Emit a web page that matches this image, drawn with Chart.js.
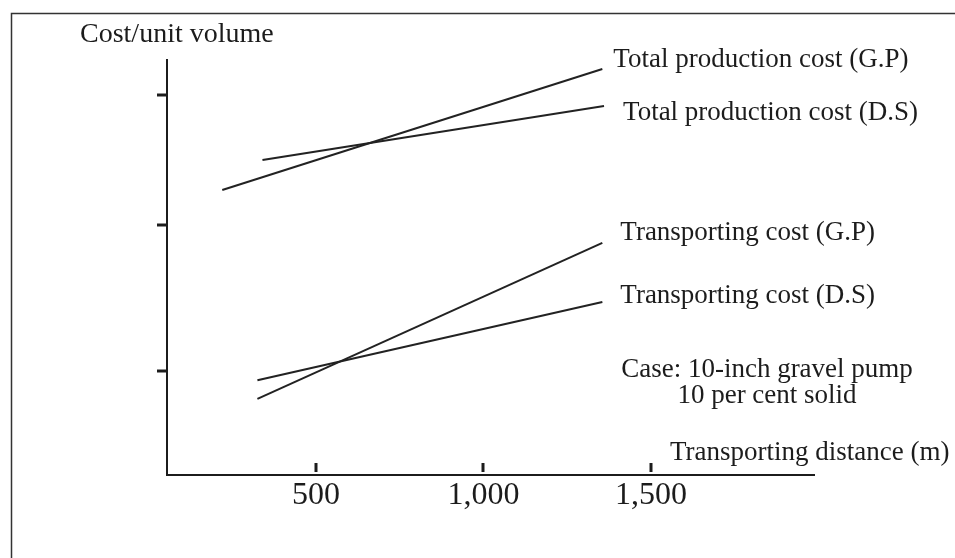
<!DOCTYPE html>
<html>
<head>
<meta charset="utf-8">
<script src="https://cdn.jsdelivr.net/npm/chart.js@4/dist/chart.umd.min.js"></script>
<style>
  html, body { margin: 0; padding: 0; background: #fff; }
  canvas { display: block; }
</style>
</head>
<body>
<canvas id="c" width="955" height="558"></canvas>
<script>
// Cost per unit volume against transporting distance (schematic, no y values shown)
const seriesNames = [
  'Total production cost (G.P)',
  'Total production cost (D.S)',
  'Transporting cost (G.P)',
  'Transporting cost (D.S)'
];
const distTotalGP = [220, 1355];
const costTotalGP = [68.5, 97.6];
const distTotalDS = [340, 1360];
const costTotalDS = [75.7, 88.7];
const distTransGP = [325, 1355];
const costTransGP = [18.3, 55.8];
const distTransDS = [325, 1355];
const costTransDS = [22.8, 41.6];

const xTickValues = [500, 1000, 1500];
const xTickLabels = ['500', '1,000', '1,500'];
const yTickValues = [25, 60, 91.3];

const yTitle = 'Cost/unit volume';
const xTitle = 'Transporting distance (m)';
const caseNote = ['Case: 10-inch gravel pump', '10 per cent solid'];

const INK = '#1c1c1c';
const SERIF = '"Liberation Serif", "Times New Roman", serif';

function pts(xs, ys) { return xs.map((x, i) => ({ x: x, y: ys[i] })); }

// label offsets (px) from the right-hand end of each line
const labelOffsets = [[11, -2], [19, 14], [18, -3], [18, 1]];

const annotate = {
  id: 'annotate',
  beforeDraw(chart) {
    const ctx = chart.ctx;
    ctx.save();
    ctx.fillStyle = '#fff';
    ctx.fillRect(0, 0, chart.width, chart.height);
    // outer frame (left and top edges)
    ctx.strokeStyle = '#333';
    ctx.lineWidth = 1.5;
    ctx.beginPath();
    ctx.moveTo(11.5, chart.height);
    ctx.lineTo(11.5, 13.5);
    ctx.lineTo(chart.width, 13.5);
    ctx.stroke();
    ctx.restore();
  },
  afterDraw(chart) {
    const ctx = chart.ctx;
    const a = chart.chartArea;
    const xs = chart.scales.x, ys = chart.scales.y;
    ctx.save();
    ctx.strokeStyle = INK;
    ctx.fillStyle = INK;
    // axes
    ctx.lineWidth = 2;
    ctx.beginPath();
    ctx.moveTo(a.left, a.top);
    ctx.lineTo(a.left, a.bottom);
    ctx.lineTo(a.right, a.bottom);
    ctx.stroke();
    // x ticks point up into the plot
    ctx.lineWidth = 3;
    xTickValues.forEach((v, i) => {
      const px = Math.round(xs.getPixelForValue(v));
      ctx.beginPath();
      ctx.moveTo(px, a.bottom - 12);
      ctx.lineTo(px, a.bottom - 3);
      ctx.stroke();
    });
    // y ticks point left
    yTickValues.forEach(v => {
      const py = Math.round(ys.getPixelForValue(v));
      ctx.beginPath();
      ctx.moveTo(a.left - 10, py);
      ctx.lineTo(a.left, py);
      ctx.stroke();
    });
    // x tick labels
    ctx.font = '32px ' + SERIF;
    ctx.textAlign = 'center';
    ctx.textBaseline = 'alphabetic';
    xTickValues.forEach((v, i) => {
      ctx.fillText(xTickLabels[i], xs.getPixelForValue(v), a.bottom + 29);
    });
    // axis titles
    ctx.font = '28px ' + SERIF;
    ctx.textAlign = 'left';
    ctx.fillText(yTitle, 80, a.top - 17);
    ctx.font = '27px ' + SERIF;
    ctx.fillText(xTitle, 670, a.bottom - 15);
    // series labels at line ends
    chart.data.datasets.forEach((ds, i) => {
      const meta = chart.getDatasetMeta(i);
      const last = meta.data[meta.data.length - 1];
      ctx.fillText(ds.label, last.x + labelOffsets[i][0], last.y + labelOffsets[i][1]);
    });
    // case note
    ctx.textAlign = 'center';
    ctx.fillText(caseNote[0], 767, 377);
    ctx.fillText(caseNote[1], 767, 403);
    ctx.restore();
  }
};

const lineStyle = {
  borderColor: '#222',
  borderWidth: 2,
  pointRadius: 0,
  fill: false,
  tension: 0
};

new Chart(document.getElementById('c'), {
  type: 'line',
  data: {
    datasets: [
      Object.assign({ label: seriesNames[0], data: pts(distTotalGP, costTotalGP) }, lineStyle),
      Object.assign({ label: seriesNames[1], data: pts(distTotalDS, costTotalDS) }, lineStyle),
      Object.assign({ label: seriesNames[2], data: pts(distTransGP, costTransGP) }, lineStyle),
      Object.assign({ label: seriesNames[3], data: pts(distTransDS, costTransDS) }, lineStyle)
    ]
  },
  options: {
    responsive: false,
    animation: false,
    devicePixelRatio: 1,
    layout: { padding: { left: 167, top: 59, right: 140, bottom: 83 } },
    plugins: { legend: { display: false }, tooltip: { enabled: false } },
    scales: {
      x: { type: 'linear', min: 55, max: 1990, display: false },
      y: { type: 'linear', min: 0, max: 100, display: false }
    }
  },
  plugins: [annotate]
});
</script>
</body>
</html>
